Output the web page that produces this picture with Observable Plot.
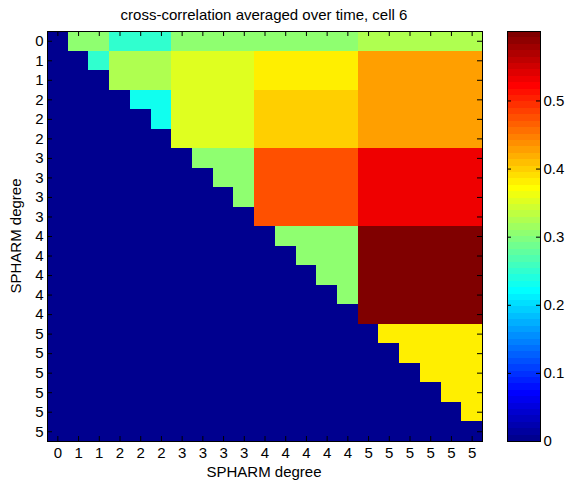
<!DOCTYPE html>
<html><head><meta charset="utf-8">
<script src="https://cdn.jsdelivr.net/npm/d3@7"></script>
<script src="https://cdn.jsdelivr.net/npm/@observablehq/plot@0.6"></script>
<style>
html,body{margin:0;padding:0;background:#fff;}
#chart{position:relative;width:572px;height:487px;font-family:"Liberation Sans",Arial,sans-serif;}
#chart > svg{position:absolute;top:0;}
</style></head><body><div id="chart"></div>
<script>
// SPHARM degree of each of the 21 coefficients (rows and columns)
const degrees = [0,1,1,2,2,2,3,3,3,3,4,4,4,4,4,5,5,5,5,5,5];
// mean cross-correlation between degree blocks (row degree -> column degree), upper triangle
const blockValues = [
  [0,    0.306, 0.249, 0.306, 0.306, 0.325],
  [null, 0.249, 0.325, 0.353, 0.381, 0.428],
  [null, null,  0.230, 0.353, 0.400, 0.428],
  [null, null,  null,  0.306, 0.475, 0.531],
  [null, null,  null,  null,  0.306, 0.602],
  [null, null,  null,  null,  null,  0.381]
];
const colorMin = 0;
const colorMax = 0.602;
const colorTicks = [0, 0.1, 0.2, 0.3, 0.4, 0.5];
const titleText = "cross-correlation averaged over time, cell 6";
const xTitle = "SPHARM degree";
const yTitle = "SPHARM degree";

// MATLAB jet(64)
function jet64(k) {
  const r = k <= 24 ? 0 : k <= 40 ? (k - 24) / 16 : k <= 55 ? 1 : (72 - k) / 16;
  const g = k <= 8 ? 0 : k <= 24 ? (k - 8) / 16 : k <= 39 ? 1 : k <= 55 ? (56 - k) / 16 : 0;
  const b = k <= 8 ? (k + 8) / 16 : k <= 23 ? 1 : k <= 39 ? (40 - k) / 16 : 0;
  return d3.rgb(r * 255, g * 255, b * 255).formatHex();
}
const jet = t => jet64(Math.min(64, Math.max(1, Math.floor(t * 64) + 1)));

const n = degrees.length;
const idx = d3.range(n);
const cells = [];
for (const i of idx) for (const j of idx) {
  cells.push({row: i, col: j, value: j > i ? blockValues[degrees[i]][degrees[j]] : 0});
}

const font = '"Liberation Sans", Arial, sans-serif';
const colorScale = {type: "linear", domain: [colorMin, colorMax], interpolate: jet};
const tick = 5;

const W = 500, H = 487, mL = 47, mR = 18, mT = 31, mB = 46;
const innerW = W - mL - mR, innerH = H - mT - mB;

const main = Plot.plot({
  width: W, height: H,
  marginLeft: mL, marginRight: mR, marginTop: mT, marginBottom: mB,
  style: {fontFamily: font, fontSize: "15px", color: "black", background: "transparent"},
  x: {type: "band", domain: idx, padding: 0, round: false, axis: null},
  y: {type: "band", domain: idx, padding: 0, round: false, axis: null},
  color: colorScale,
  marks: [
    Plot.cell(cells, {x: "col", y: "row", fill: "value", inset: 0, shapeRendering: "crispEdges"}),
    Plot.frame({stroke: "black"}),
    // inward tick marks on all four sides (MATLAB style)
    Plot.ruleX(idx, {x: d => d, insetBottom: innerH - tick, stroke: "black"}),
    Plot.ruleX(idx, {x: d => d, insetTop: innerH - tick, stroke: "black"}),
    Plot.ruleY(idx, {y: d => d, insetRight: innerW - tick, stroke: "black"}),
    Plot.ruleY(idx, {y: d => d, insetLeft: innerW - tick, stroke: "black"}),
    Plot.axisX({anchor: "bottom", tickSize: 0, tickPadding: 6, tickFormat: i => String(degrees[i]), label: null}),
    Plot.axisY({anchor: "left", tickSize: 0, tickPadding: 4, tickFormat: i => String(degrees[i]), label: null})
  ]
});
main.style.left = "0px";

const bands = d3.range(64).map(k => ({
  lo: colorMin + (k / 64) * (colorMax - colorMin),
  hi: colorMin + ((k + 1) / 64) * (colorMax - colorMin),
  mid: colorMin + ((k + 0.5) / 64) * (colorMax - colorMin)
}));

const bW = 82, bL = 17, bR = 32;
const barInnerW = bW - bL - bR;
const bar = Plot.plot({
  width: bW, height: H,
  marginLeft: bL, marginRight: bR, marginTop: mT, marginBottom: mB,
  style: {fontFamily: font, fontSize: "15px", color: "black", background: "transparent"},
  y: {domain: [colorMin, colorMax], axis: null},
  color: colorScale,
  marks: [
    Plot.rect(bands, {y1: "lo", y2: "hi", fill: "mid", shapeRendering: "crispEdges"}),
    Plot.frame({stroke: "black"}),
    Plot.ruleY(colorTicks, {y: d => d, insetRight: barInnerW - 4, stroke: "black"}),
    Plot.ruleY(colorTicks, {y: d => d, insetLeft: barInnerW - 4, stroke: "black"}),
    Plot.axisY({anchor: "right", ticks: colorTicks, tickSize: 0, tickPadding: 3, tickFormat: d => d === 0 ? "0" : d3.format(".1f")(d), label: null})
  ]
});
bar.style.left = "490px";

const chart = document.getElementById("chart");
chart.appendChild(main);
chart.appendChild(bar);

const overlay = d3.create("svg")
  .attr("width", 572).attr("height", 487)
  .style("left", "0px").style("pointer-events", "none")
  .attr("font-family", font).attr("font-size", 15).attr("fill", "black");
overlay.append("text").attr("x", 264).attr("y", 20).attr("text-anchor", "middle").text(titleText);
overlay.append("text").attr("x", 264).attr("y", 477).attr("text-anchor", "middle").text(xTitle);
overlay.append("text").attr("transform", "translate(21,236) rotate(-90)").attr("text-anchor", "middle").text(yTitle);
chart.appendChild(overlay.node());
</script></body></html>
